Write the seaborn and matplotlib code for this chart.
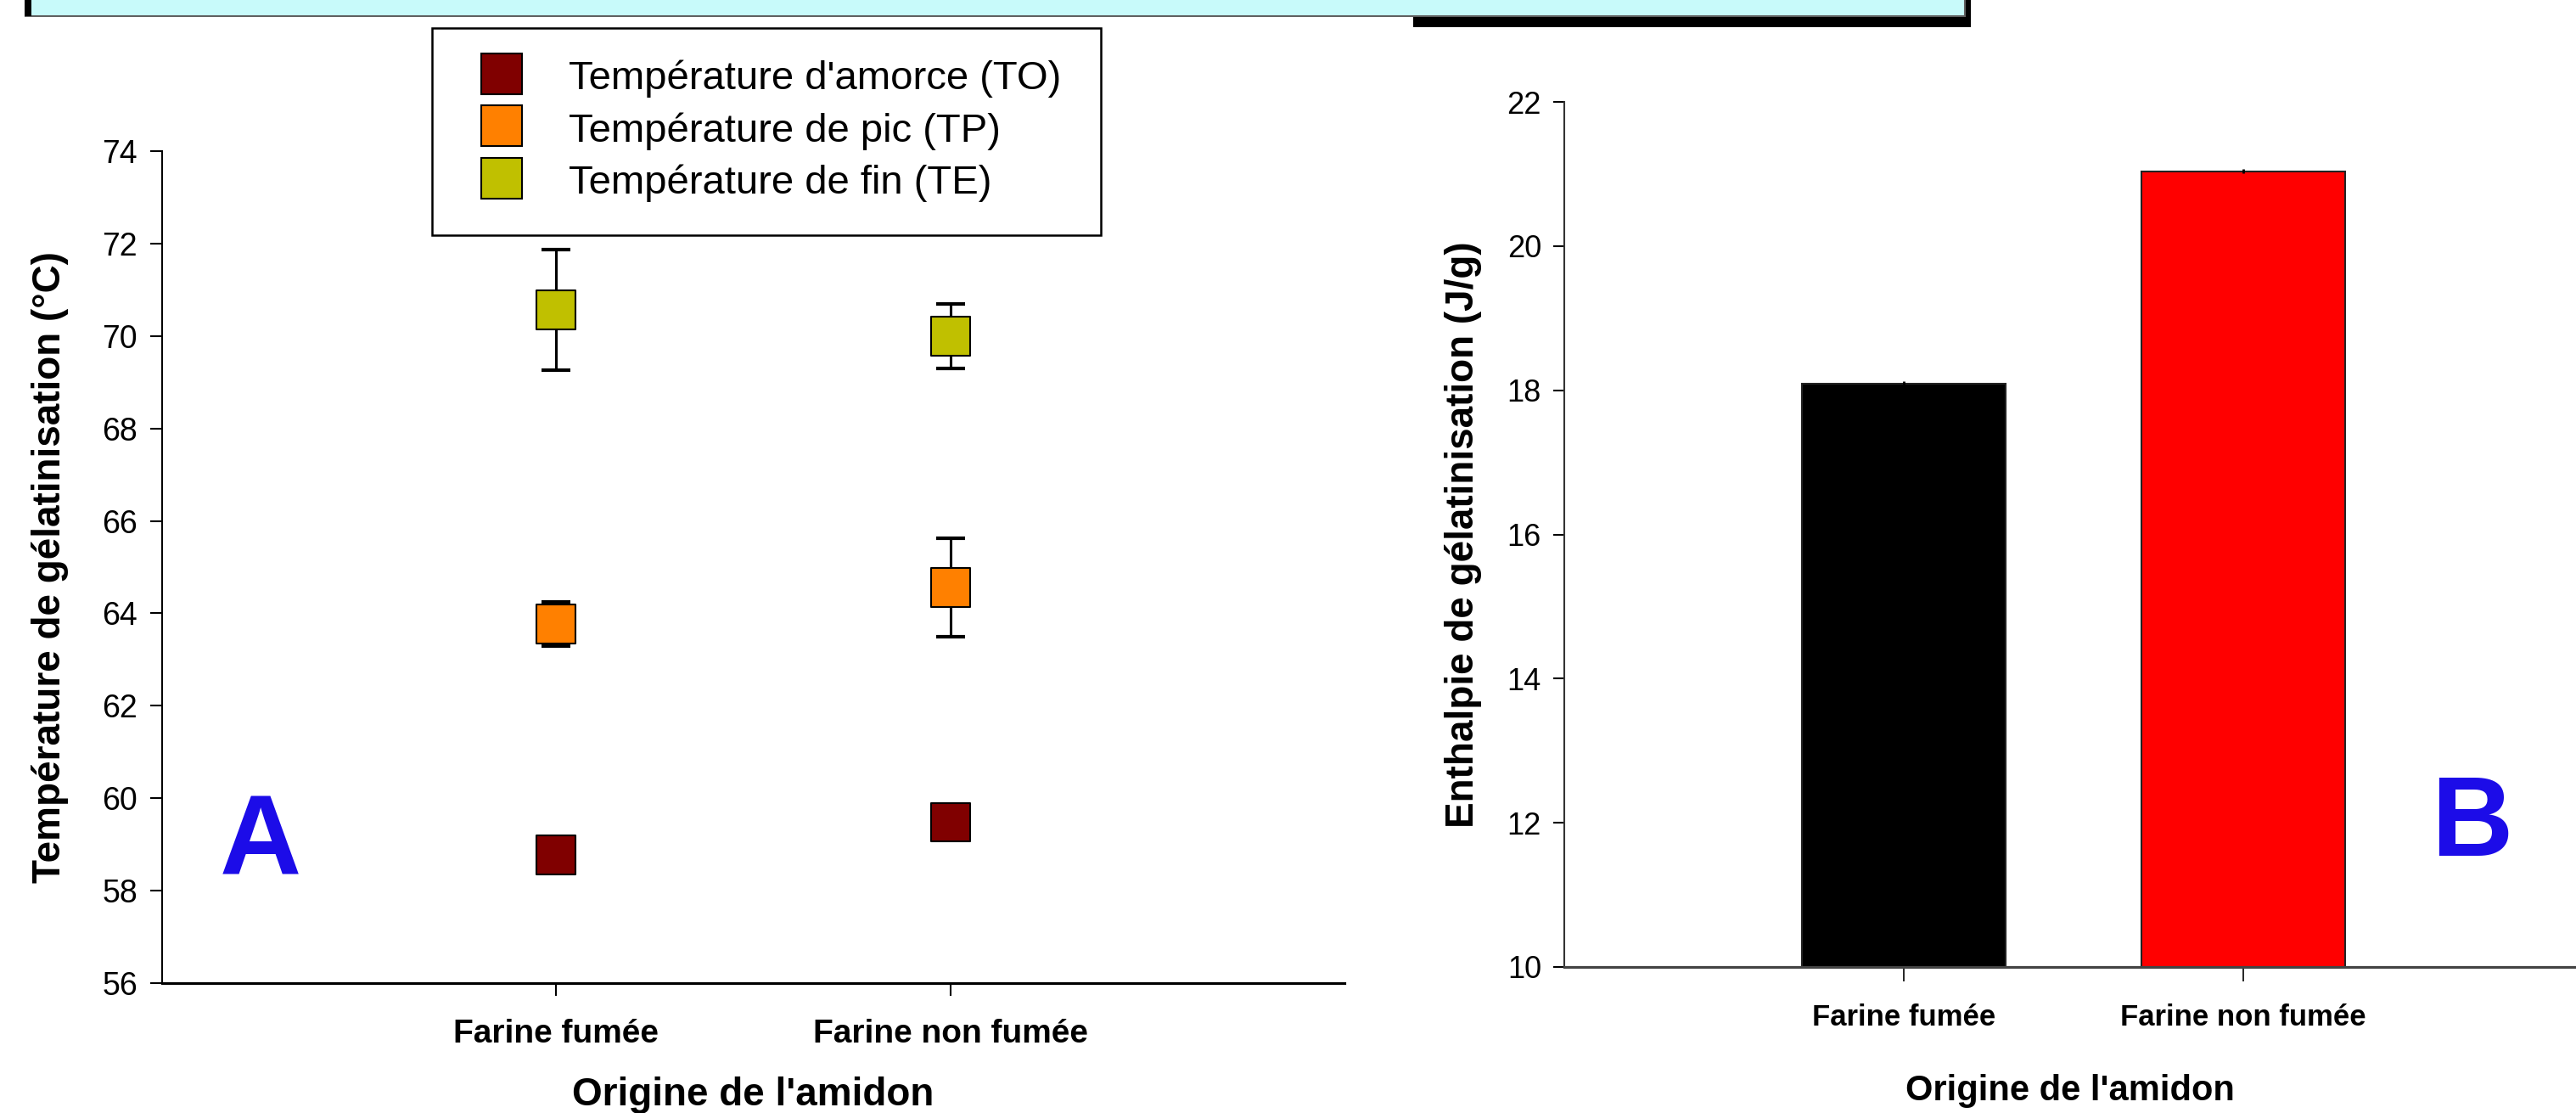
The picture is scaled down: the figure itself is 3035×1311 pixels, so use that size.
import matplotlib
matplotlib.use("Agg")
import matplotlib.pyplot as plt
from matplotlib.patches import Rectangle
from matplotlib.lines import Line2D
import seaborn as sns
import pandas as pd

# ---------------- data ----------------
categories = ["Farine fumée", "Farine non fumée"]
series_names = ["Température d'amorce (TO)", "Température de pic (TP)", "Température de fin (TE)"]
to_mean = [58.77, 59.48]
to_err = [0.30, 0.35]
tp_mean = [63.77, 64.56]
tp_err = [0.48, 1.06]
te_mean = [70.57, 69.99]
te_err = [1.30, 0.70]
series_colors = ["#800000", "#FF8000", "#C0C000"]

enthalpy = [18.09, 21.04]
enthalpy_err = [0.03, 0.03]
bar_colors = ["#000000", "#FF0000"]

yticks_a = [56, 58, 60, 62, 64, 66, 68, 70, 72, 74]
yticks_b = [10, 12, 14, 16, 18, 20, 22]

# ---------------- style ----------------
sns.set_style("ticks")
plt.rcParams["font.family"] = ["Liberation Sans", "DejaVu Sans"]
plt.rcParams["text.color"] = "black"
plt.rcParams["axes.labelcolor"] = "black"
plt.rcParams["xtick.color"] = "black"
plt.rcParams["ytick.color"] = "black"

W, H = 3035, 1311
fig = plt.figure(figsize=(W / 100, H / 100), dpi=100)


def fx(px):
    return px / W


def fy(py):
    return 1 - py / H


# top decoration strip (cropped panel frame)
fig.add_artist(Rectangle((fx(1665), fy(32)), fx(2322 - 1665), 32 / H,
                         transform=fig.transFigure, facecolor="black", edgecolor="none", zorder=1))
fig.add_artist(Rectangle((fx(30), fy(19)), fx(2315 - 30), 25 / H,
                         transform=fig.transFigure, facecolor="#C8FAFA", edgecolor="#606060",
                         linewidth=1.5, zorder=2))
fig.add_artist(Rectangle((fx(29), fy(19)), fx(8), 19 / H,
                         transform=fig.transFigure, facecolor="black", edgecolor="none", zorder=3))

# ---------------- panel A ----------------
axA = fig.add_axes([fx(191), fy(1158), fx(1584 - 191), (1158 - 178) / H])
positions = [1, 2]
rows = []
for name, means, errs in zip(series_names, [to_mean, tp_mean, te_mean], [to_err, tp_err, te_err]):
    for p, m, e in zip(positions, means, errs):
        rows.append({"pos": p, "value": m, "err": e, "series": name})
dfA = pd.DataFrame(rows)

axA.errorbar(dfA["pos"], dfA["value"], yerr=dfA["err"], fmt="none", ecolor="black",
             elinewidth=2.2, capsize=12, capthick=3, zorder=2)
sns.scatterplot(data=dfA, x="pos", y="value", hue="series", hue_order=series_names,
                palette=series_colors, marker="s", s=33 ** 2, edgecolor="black",
                linewidth=1.5, legend=False, ax=axA, zorder=3)

axA.set_xlim(0, 3)
axA.set_ylim(56, 74)
axA.set_yticks(yticks_a)
axA.set_yticklabels([str(t) for t in yticks_a], fontsize=27)
axA.set_xticks(positions)
axA.set_xticklabels(categories, fontsize=28, fontweight="bold")
axA.tick_params(axis="y", direction="out", length=10, width=1.5, pad=11, colors="black")
axA.tick_params(axis="x", direction="out", length=11, width=1.5, pad=19, colors="black")
sns.despine(ax=axA)
axA.spines["left"].set_linewidth(1.5)
axA.spines["bottom"].set_linewidth(2.3)
axA.spines["left"].set_color("black")
axA.spines["bottom"].set_color("black")
axA.set_xlabel("Origine de l'amidon", fontsize=33, fontweight="bold", color="black")
axA.xaxis.set_label_coords(0.5, -0.112)
axA.set_ylabel("Température de gélatinisation (°C)", fontsize=33, fontweight="bold", color="black")
axA.yaxis.set_label_coords(-0.079, 0.5)

# legend with its own frame
fig.add_artist(Rectangle((fx(509), fy(277)), fx(1297 - 509), (277 - 33) / H,
                         transform=fig.transFigure, facecolor="white", edgecolor="black",
                         linewidth=1.8, zorder=4))
handles = [Line2D([0], [0], marker="s", linestyle="none", markersize=34,
                  markerfacecolor=c, markeredgecolor="black", markeredgewidth=1.5)
           for c in series_colors]
leg = fig.legend(handles, series_names, loc="upper left", bbox_to_anchor=(fx(567), fy(68)),
                 frameon=False, fontsize=34, borderaxespad=0, borderpad=0,
                 handlelength=1.0, handleheight=1.0, handletextpad=1.19, labelspacing=0.3)
for t in leg.get_texts():
    t.set_color("black")

fig.text(fx(307), fy(996), "A", fontsize=96, fontweight="bold", color="#1C0CE8",
         ha="center", va="center")

# ---------------- panel B ----------------
axB = fig.add_axes([fx(1843), fy(1139), 1 - fx(1843), (1139 - 120) / H])
dfB = pd.DataFrame({"origine": categories, "enthalpie": enthalpy})
sns.barplot(data=dfB, x="origine", y="enthalpie", hue="origine", order=categories,
            hue_order=categories, palette=bar_colors, saturation=1, width=0.6,
            edgecolor="#222222", linewidth=1.5, legend=False, errorbar=None, ax=axB, zorder=2)
axB.errorbar([0, 1], enthalpy, yerr=enthalpy_err, fmt="none", ecolor="black",
             elinewidth=2, capsize=0, zorder=3)
axB.set_xlim(-1, 1.98)
axB.set_ylim(10, 22)
axB.set_yticks(yticks_b)
axB.set_yticklabels([str(t) for t in yticks_b], fontsize=26)
axB.set_xticks([0, 1])
axB.set_xticklabels(categories, fontsize=25, fontweight="bold")
axB.tick_params(axis="y", direction="out", length=9.5, width=1.5, pad=10, colors="black")
axB.tick_params(axis="x", direction="out", length=12, width=1.2, pad=19, colors="black")
sns.despine(ax=axB)
axB.spines["left"].set_linewidth(1.5)
axB.spines["left"].set_color("#333333")
axB.spines["bottom"].set_linewidth(2.3)
axB.spines["bottom"].set_color("#444444")
axB.set_xlabel("Origine de l'amidon", fontsize=30, fontweight="bold", color="black")
axB.xaxis.set_label_coords(0.5, -0.1237)
axB.set_ylabel("Enthalpie de gélatinisation (J/g)", fontsize=33, fontweight="bold", color="black")
axB.yaxis.set_label_coords(-0.0814, 0.5)

fig.text(fx(2912), fy(973), "B", fontsize=96, fontweight="bold", color="#1C0CE8",
         ha="center", va="center")

fig.savefig("out.png", dpi=100)
